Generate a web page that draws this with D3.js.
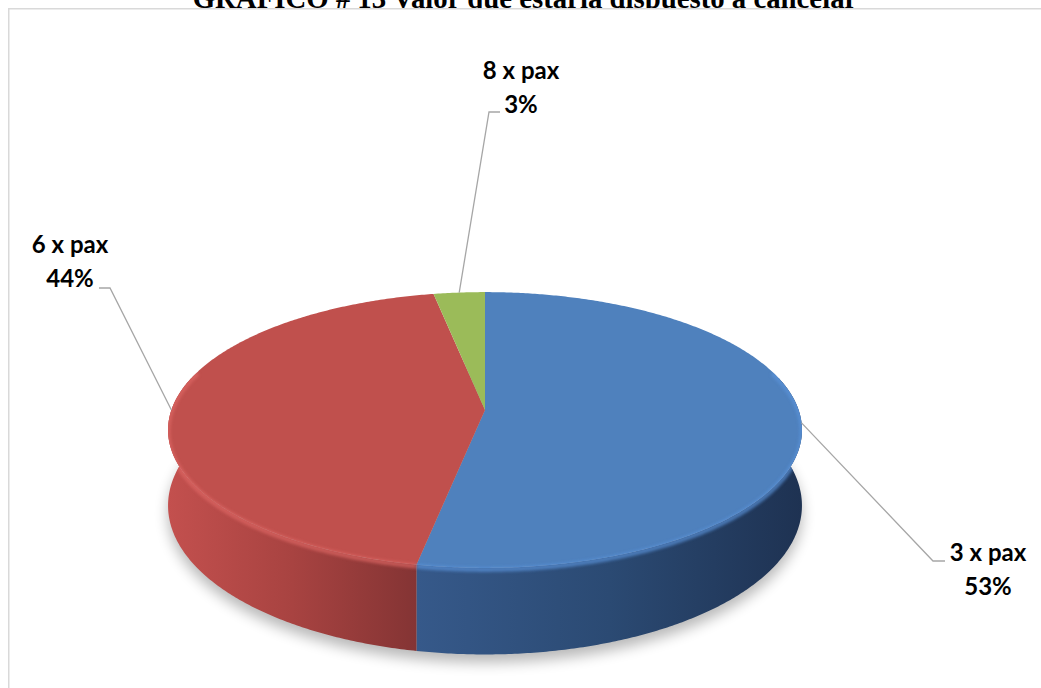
<!DOCTYPE html>
<html>
<head>
<meta charset="utf-8">
<script src="https://cdn.jsdelivr.net/npm/d3@7"></script>
<style>
  html, body { margin: 0; padding: 0; background: #ffffff; overflow: hidden; }
  svg { display: block; }
</style>
</head>
<body>
<svg id="chart" width="1041" height="688"></svg>
<script>
// ---------------- data ----------------
const title = "GRÁFICO # 13 Valor que estaría dispuesto a cancelar";
const categories = ["3 x pax", "6 x pax", "8 x pax"];
const values = [53, 44, 3];
const percentLabels = ["53%", "44%", "3%"];

// ---------------- style / layout ----------------
const topColors  = ["#4f81bd", "#c0504d", "#9bbb59"];
const bevelColors = ["#5a92d8", "#dc6664", "#b0d26a"];
const wallStops = [
  [["0", "#36598a"], ["0.5", "#2b4a73"], ["1", "#1e3252"]],
  [["0", "#c3504e"], ["0.5", "#a84341"], ["1", "#843434"]],
  [["0", "#86a34a"], ["1", "#5f7634"]]
];
// label placement: [centerX, firstBaseline]; leader end point and elbow length
const labelLayout = [
  { x: 988, y: 561, end: [945, 561], elbow: -12 },
  { x: 70,  y: 253, end: [99, 288],  elbow: 11 },
  { x: 521, y: 79,  end: [500, 112], elbow: -11 }
];
const lineGap = 34;

const W = 1041, H = 688;
const CX = 485, CY = 410, RX = 313.6, RY = 135, P = 0.145, DEPTH = 74;

function proj(theta, drop) {
  const s = 1 / (1 + P * Math.cos(theta));
  return [CX + RX * Math.sin(theta) * s, CY - RY * Math.cos(theta) * s + (drop || 0) * s];
}
function arcPts(a0, a1, drop) {
  const n = Math.max(2, Math.ceil(Math.abs(a1 - a0) / (Math.PI / 360)));
  const pts = [];
  for (let i = 0; i <= n; i++) pts.push(proj(a0 + (a1 - a0) * i / n, drop));
  return pts;
}

const svg = d3.select("#chart");
const defs = svg.append("defs");

defs.append("filter").attr("id", "shadowBlur").attr("x", "-20%").attr("y", "-20%").attr("width", "140%").attr("height", "140%")
  .append("feGaussianBlur").attr("stdDeviation", 7);
defs.append("filter").attr("id", "bevelBlur").attr("x", "-10%").attr("y", "-10%").attr("width", "120%").attr("height", "120%")
  .append("feGaussianBlur").attr("stdDeviation", 1.5);

// title (clipped at top, partially covered by the chart area)
const titleText = svg.append("text")
  .attr("x", W / 2).attr("y", 7.5)
  .attr("text-anchor", "middle")
  .attr("font-family", "'Liberation Serif', 'Times New Roman', serif")
  .attr("font-weight", "bold")
  .attr("font-size", 20)
  .attr("fill", "#000")
  .text(title);
const tw = titleText.node().getComputedTextLength();
titleText.attr("font-size", 20 * 665 / tw).attr("x", 192.5 + 665 / 2);

// chart area
svg.append("rect")
  .attr("x", 8.75).attr("y", 8.75).attr("width", W + 20).attr("height", H + 20)
  .attr("fill", "#ffffff").attr("stroke", "#d9d9d9").attr("stroke-width", 1.5);

// pie geometry via d3.pie
const pie = d3.pie().sort(null).value(d => d)(values);
const line = d3.line();

// shadow
const bottomOutline = arcPts(0, 2 * Math.PI, DEPTH).map(p => [p[0], p[1] + 8]);
svg.append("path")
  .attr("d", line(bottomOutline) + "Z")
  .attr("fill", "#000").attr("opacity", 0.28)
  .attr("filter", "url(#shadowBlur)");

// clip for the solid body (top ellipse + front wall)
const FRONT0 = Math.PI / 2 - 0.25, FRONT1 = 1.5 * Math.PI + 0.25;
const bodyClip = defs.append("clipPath").attr("id", "bodyClip");
bodyClip.append("path").attr("d", line(arcPts(0, 2 * Math.PI, 0)) + "Z");
bodyClip.append("path").attr("d", line(arcPts(FRONT0, FRONT1, 0).concat(arcPts(FRONT1, FRONT0, DEPTH))) + "Z");

// walls (front side)
pie.forEach((d, i) => {
  const a0 = Math.max(d.startAngle, FRONT0), a1 = Math.min(d.endAngle, FRONT1);
  if (a1 <= a0) return;
  const top = arcPts(a0, a1, 0), bot = arcPts(a1, a0, DEPTH);
  const xs = top.concat(bot).map(p => p[0]);
  const g = defs.append("linearGradient").attr("id", "wall" + i)
    .attr("gradientUnits", "userSpaceOnUse")
    .attr("x1", d3.min(xs)).attr("x2", d3.max(xs)).attr("y1", 0).attr("y2", 0);
  wallStops[i].forEach(s => g.append("stop").attr("offset", s[0]).attr("stop-color", s[1]));
  svg.append("path")
    .attr("d", line(top.concat(bot)) + "Z")
    .attr("fill", "url(#wall" + i + ")");
});

// top faces
pie.forEach((d, i) => {
  const pts = [[CX, CY]].concat(arcPts(d.startAngle, d.endAngle, 0));
  svg.append("path")
    .attr("d", line(pts) + "Z")
    .attr("fill", topColors[i]);
});

// bevel highlights on the front rim, kept inside the body outline
const bevelG = svg.append("g").attr("clip-path", "url(#bodyClip)");
pie.forEach((d, i) => {
  const a0 = Math.max(d.startAngle, Math.PI / 2 - 0.3), a1 = Math.min(d.endAngle, 1.5 * Math.PI + 0.3);
  if (a1 <= a0) return;
  const pts = arcPts(a0, a1, 0).map(p => [p[0], p[1] + 1.5]);
  bevelG.append("path")
    .attr("d", line(pts))
    .attr("fill", "none")
    .attr("stroke", bevelColors[i]).attr("stroke-width", 5)
    .attr("opacity", 0.7)
    .attr("filter", "url(#bevelBlur)");
});

// leader lines and labels
pie.forEach((d, i) => {
  const mid = (d.startAngle + d.endAngle) / 2;
  const anchor = proj(mid, 0);
  const L = labelLayout[i];
  const elbowPt = [L.end[0] + L.elbow, L.end[1]];
  svg.append("path")
    .attr("d", line([L.end, elbowPt, anchor]))
    .attr("fill", "none").attr("stroke", "#a6a6a6").attr("stroke-width", 1.3);
  const t = svg.append("text")
    .attr("text-anchor", "middle")
    .attr("font-family", "Lato, 'Open Sans', sans-serif")
    .attr("font-weight", "bold").attr("font-size", 24).attr("fill", "#000");
  t.append("tspan").attr("x", L.x).attr("y", L.y).text(categories[i]);
  t.append("tspan").attr("x", L.x).attr("y", L.y + lineGap).text(percentLabels[i]);
});
</script>
</body>
</html>
